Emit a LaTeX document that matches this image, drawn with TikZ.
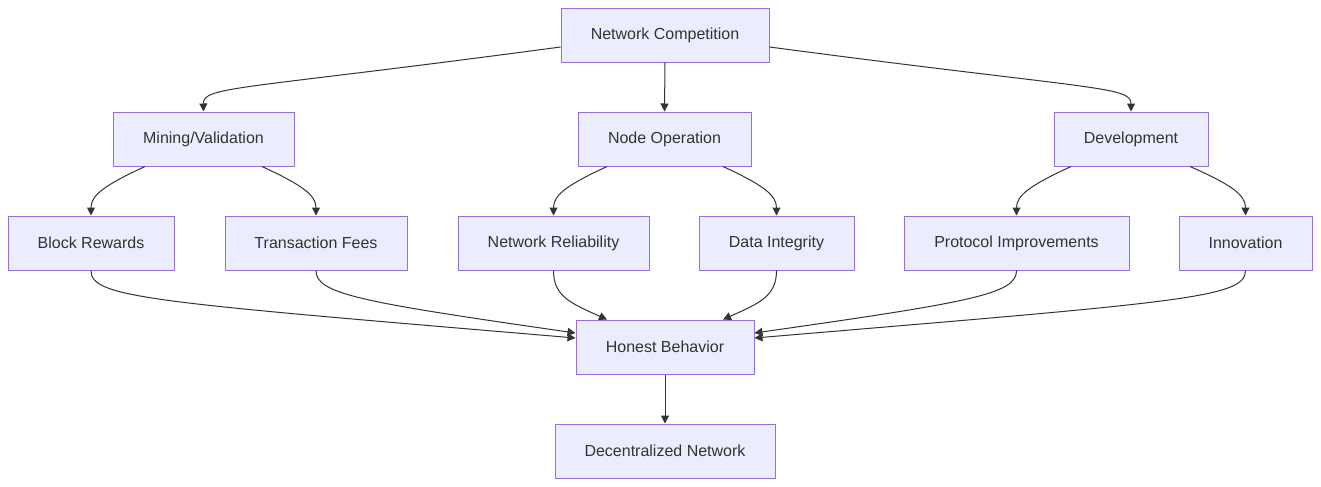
\documentclass[tikz,border=0pt]{standalone}
\usepackage{fontspec}
\setmainfont{Liberation Sans}
\usepackage{tikz}
\usetikzlibrary{positioning}
\usetikzlibrary{calc}
\usetikzlibrary{arrows.meta}
\definecolor{boxfill}{HTML}{ECECFF}
\definecolor{boxline}{HTML}{9370DB}
\definecolor{ink}{HTML}{333333}
\tikzset{
    stepbox/.style={draw=boxline, fill=boxfill, line width=0.75pt, text=ink,
        inner sep=0pt, minimum height=40.5pt,
        font=\fontsize{12}{14}\selectfont},
    link/.style={draw=ink, line width=0.75pt,
        -{Triangle[length=6pt,width=6pt]}}
}
\begin{document}
\begin{tikzpicture}[x=0.75pt, y=-0.75pt]
    \useasboundingbox (0,0) rectangle (1321,486);

    % Nodi principali
    \node [stepbox, minimum width=156pt] (nc) at (665,35) {Network Competition};
    \node [stepbox, minimum width=135.75pt] (mv) at (203.5,139) {Mining/Validation};
    \node [stepbox, minimum width=129.75pt] (no) at (664.5,139) {Node Operation};
    \node [stepbox, minimum width=115.5pt] (dev) at (1131,139) {Development};

    % Foglie
    \node [stepbox, minimum width=124.5pt] (br) at (91,243) {Block Rewards};
    \node [stepbox, minimum width=136.5pt] (tf) at (316,243) {Transaction Fees};
    \node [stepbox, minimum width=143.25pt] (nr) at (553.5,243) {Network Reliability};
    \node [stepbox, minimum width=116.25pt] (di) at (776.5,243) {Data Integrity};
    \node [stepbox, minimum width=168.75pt] (pi) at (1016.5,243) {Protocol Improvements};
    \node [stepbox, minimum width=99.75pt] (inn) at (1245.5,243) {Innovation};

    % Esito
    \node [stepbox, minimum width=133.5pt] (hb) at (665,347) {Honest Behavior};
    \node [stepbox, minimum width=165pt] (dn) at (665,451) {Decentralized Network};

    % Archi dal nodo radice
    \draw [link] ($(nc.west)+(0,12)$) .. controls (240,90) and (203,86) .. (mv.north);
    \draw [link] (nc.south) -- (no.north);
    \draw [link] ($(nc.east)+(0,12)$) .. controls (1094,90) and (1131,86) .. (dev.north);

    % Archi verso le foglie
    \draw [link] ($(mv.south)+(-58.5,0)$) .. controls (105,185) and (91,195) .. (br.north);
    \draw [link] ($(mv.south)+(58.5,0)$) .. controls (302,185) and (316,195) .. (tf.north);
    \draw [link] ($(no.south)+(-57.5,0)$) .. controls (567,185) and (553.5,195) .. (nr.north);
    \draw [link] ($(no.south)+(58.5,0)$) .. controls (763,185) and (776.5,195) .. (di.north);
    \draw [link] ($(dev.south)+(-60,0)$) .. controls (1031,185) and (1016.5,195) .. (pi.north);
    \draw [link] ($(dev.south)+(59,0)$) .. controls (1232,185) and (1245.5,195) .. (inn.north);

    % Archi che convergono
    \draw [link] (br.south) .. controls (91,298) and (150,302) .. ($(hb.west)+(0,-9)$);
    \draw [link] (tf.south) .. controls (316,294) and (360,302) .. ($(hb.west)+(0,-14)$);
    \draw [link] (nr.south) .. controls (553.5,296) and (570,303) .. ($(hb.north)+(-58,0)$);
    \draw [link] (di.south) .. controls (776.5,296) and (760,303) .. ($(hb.north)+(58,0)$);
    \draw [link] (pi.south) .. controls (1016.5,294) and (972,302) .. ($(hb.east)+(0,-14)$);
    \draw [link] (inn.south) .. controls (1245.5,298) and (1182,302) .. ($(hb.east)+(0,-9)$);
    \draw [link] (hb.south) -- (dn.north);
\end{tikzpicture}
\end{document}
